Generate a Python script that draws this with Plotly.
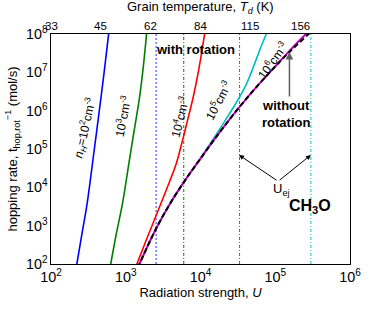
import math
import plotly.graph_objects as go

# ---- data (U = radiation strength, R = hopping rate) ----
U_n2 = [217.3, 260.0, 304.1, 371.5, 465.6, 524.8, 598.4]
R_n2 = [79.4, 631, 3741, 70795, 2.138e6, 1.413e7, 1.259e8]

U_n3 = [616.6, 741.3, 903.6, 1096.5, 1288.2, 1524.1, 1717.9, 1918.6]
R_n3 = [79.4, 562, 3741, 39811, 281838, 2.138e6, 1.413e7, 1.259e8]

U_n4 = [1346, 1905, 2630, 3548, 4710, 5794, 6918, 7943, 9120, 10233, 11561]
R_n4 = [79.4, 447, 2138, 9333, 39811, 177828, 707946, 2.138e6, 7.943e6, 2.818e7, 1.259e8]

U_norot = [1445, 2512, 3981, 6310, 10000, 17783, 33343, 56234, 94189, 158489, 279898, 316228]
R_norot = [79.4, 794, 3981, 15849, 56234, 263027, 1.259e6, 4.169e6, 1.259e7, 3.548e7, 1.0e8, 1.259e8]

U_n5 = [1445, 2512, 3981, 6310, 10000, 14125, 20417, 32734, 41687, 54702, 66069, 75858, 79433]
R_n5 = [79.4, 794, 3981, 15849, 57544, 158489, 478630, 2.138e6, 5.248e6, 1.995e7, 5.248e7, 1.0e8, 1.259e8]

U_n6 = [1445, 2512, 3981, 6310, 10000, 17783, 33343, 56234, 94189, 158489, 263027, 295121]
R_n6 = [79.4, 794, 3981, 15849, 56234, 263027, 1.259e6, 4.169e6, 1.259e7, 3.802e7, 1.047e8, 1.318e8]

U_ej = {"blue": 2550, "green": 5970, "red": 33300, "cyan": 300000}

td_U = [100, 464, 2154, 10000, 46416, 215443]
td_labels = ["33", "45", "62", "84", "115", "156"]

x_decades = [2, 3, 4, 5, 6]
y_decades = [2, 3, 4, 5, 6, 7, 8]

FONT = "Liberation Sans, Arial, sans-serif"
W, H = 373, 309
ML, MR, MT, MB = 48, 15, 34, 36
PW, PH = W - ML - MR, H - MT - MB

fig = go.Figure()

def curve(x, y, color, width=1.6, dash=None):
    fig.add_trace(go.Scatter(x=x, y=y, mode="lines", line_shape="spline",
                             line=dict(color=color, width=width, dash=dash),
                             showlegend=False, hoverinfo="skip"))

vcols = {"blue": "#7a7aff", "green": "#008000", "red": "#ff2020", "cyan": "#00bfbf"}
for k, u in U_ej.items():
    fig.add_trace(go.Scatter(x=[u, u], y=[1e2, 1e8], mode="lines",
                             line=dict(color=vcols[k], width=1.6 if k == "blue" else 1,
                                       dash="2px,2px" if k == "blue" else "3px,2px,1px,2px"),
                             showlegend=False, hoverinfo="skip"))

curve(U_n2, R_n2, "#0000ff")
curve(U_n3, R_n3, "#008000")
curve(U_n4, R_n4, "#ff0000")
curve(U_n5, R_n5, "#00bfbf")
curve(U_n6, R_n6, "#bf00bf", width=2)
curve(U_norot, R_norot, "#000000", width=2, dash="5px,3px")

axis_common = dict(showline=True, linecolor="black", linewidth=1.3, showgrid=False,
                   zeroline=False, ticks="", ticklabeloverflow="allow",
                   tickfont=dict(family=FONT, size=11.5, color="black"))

fig.update_layout(
    width=W, height=H,
    margin=dict(l=ML, r=MR, t=MT, b=MB),
    paper_bgcolor="white", plot_bgcolor="white",
    font=dict(family=FONT, size=13, color="black"),
    xaxis=dict(type="log", range=[2, 6], dtick=1, exponentformat="power", mirror=True,
               title=dict(text="Radiation strength, <i>U</i>", standoff=3,
                          font=dict(family=FONT, size=13)),
               **axis_common),
    yaxis=dict(type="log", range=[2, 8], dtick=1, exponentformat="power", mirror=True,
               title=dict(text="hopping rate, t<sub>hop,rot</sub><sup>−1</sup> (mol/s)",
                          standoff=5, font=dict(family=FONT, size=13)),
               **axis_common),
)

ann = []
shapes = []

def tick(xref, yref, x0, x1, y0, y1, w=1.3):
    shapes.append(dict(type="line", xref=xref, yref=yref, x0=x0, x1=x1, y0=y0, y1=y1,
                       line=dict(color="black", width=w), layer="above"))

MAJ, MIN = 9, 5
# bottom axis ticks (decades + minor 2..9), drawn inside
for d in x_decades:
    tick("x", "paper", d, d, 0, MAJ / PH)
    if d < x_decades[-1]:
        for k in range(2, 10):
            lx = d + math.log10(k)
            tick("x", "paper", lx, lx, 0, MIN / PH, w=1.1)
# left and right axis ticks
for d in y_decades:
    tick("paper", "y", 0, MAJ / PW, d, d)
    tick("paper", "y", 1, 1 - MAJ / PW, d, d)
    if d < y_decades[-1]:
        for k in range(2, 10):
            ly = d + math.log10(k)
            tick("paper", "y", 0, MIN / PW, ly, ly, w=1.1)
            tick("paper", "y", 1, 1 - MIN / PW, ly, ly, w=1.1)

# top temperature axis: ticks + labels + title
for u, lab in zip(td_U, td_labels):
    lu = math.log10(u)
    tick("x", "paper", lu, lu, 1, 1 - MAJ / PH)
    ann.append(dict(x=lu, y=1, xref="x", yref="paper", text=lab, showarrow=False,
                    xanchor="center", yanchor="bottom", yshift=0,
                    font=dict(family=FONT, size=11.5, color="black")))
ann.append(dict(x=0.5, y=1, xref="paper", yref="paper", yshift=16, showarrow=False,
                xanchor="center", yanchor="bottom",
                text="Grain temperature, <i>T<sub>d</sub></i> (K)",
                font=dict(family=FONT, size=13, color="black")))

def text(x, y, t, size=12, angle=0, bold=False):
    if bold:
        t = "<b>" + t + "</b>"
    ann.append(dict(x=x, y=y, xref="x", yref="y", text=t, showarrow=False,
                    textangle=angle, font=dict(family=FONT, size=size, color="black"),
                    xanchor="center", yanchor="middle"))

text(2.451, 5.554, "<i>n<sub>H</sub></i>=10<sup>2</sup>cm<sup>-3</sup>", angle=-77)
text(2.96, 5.855, "10<sup>3</sup>cm<sup>-3</sup>", angle=-79)
text(3.72, 5.83, "10<sup>4</sup>cm<sup>-3</sup>", angle=-76)
text(4.236, 6.28, "10<sup>5</sup>cm<sup>-3</sup>", angle=-62)
text(4.96, 7.33, "10<sup>6</sup>cm<sup>-3</sup>", angle=-54)
text(3.939, 7.6, "with rotation", size=13, bold=True)
text(5.147, 5.92, "without<br>rotation", size=13, bold=True)
text(5.469, 3.49, "CH<sub>3</sub>O", size=16, bold=True)
text(5.083, 3.95, "U<sub>ej</sub>", size=13)

for hx in (4.515, 5.477):
    ann.append(dict(x=hx, y=4.844, ax=5.039, ay=4.157, xref="x", yref="y",
                    axref="x", ayref="y", text="", showarrow=True, arrowhead=2,
                    arrowsize=1, arrowwidth=1, arrowcolor="black"))
ann.append(dict(x=5.19, y=7.53, ax=5.19, ay=6.332, xref="x", yref="y",
                axref="x", ayref="y", text="", showarrow=True, arrowhead=2,
                arrowsize=1, arrowwidth=1.5, arrowcolor="#606060"))
fig.update_layout(annotations=ann, shapes=shapes)

fig.write_html("out.html", config={"displayModeBar": False},
               post_script="document.body.style.margin='0';")
